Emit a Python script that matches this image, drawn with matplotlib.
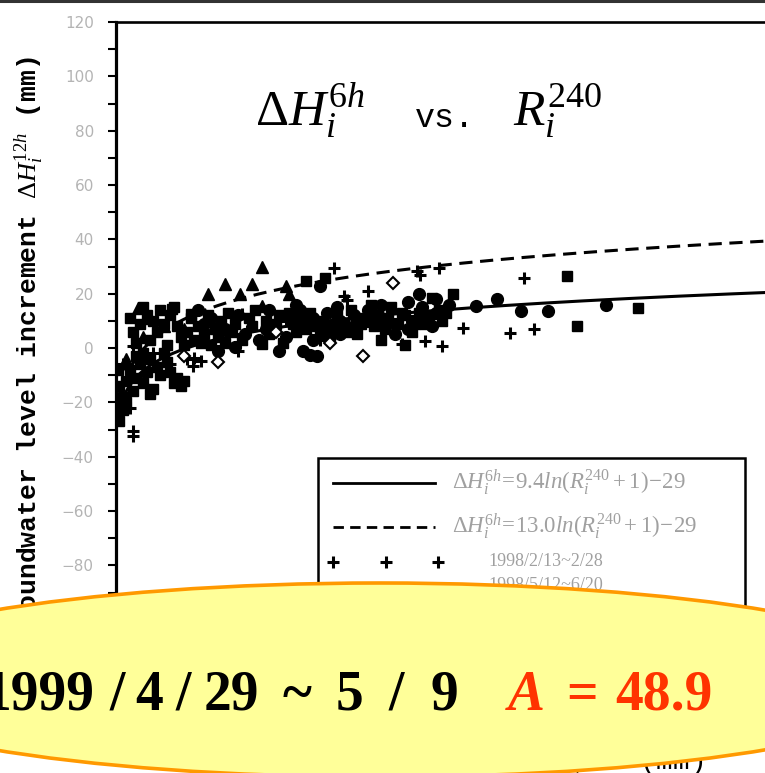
import matplotlib
matplotlib.use("Agg")
import matplotlib.pyplot as plt
from matplotlib.patches import Ellipse, Rectangle
from matplotlib.lines import Line2D
import numpy as np

plt.rcParams['mathtext.fontset'] = 'custom'
plt.rcParams['mathtext.rm'] = 'Liberation Serif'
plt.rcParams['mathtext.it'] = 'Liberation Serif:italic'
plt.rcParams['mathtext.tt'] = 'Liberation Mono'
plt.rcParams['lines.scale_dashes'] = False

# ---------------- data ----------------
cross_R = [4, 5, 5, 5, 2, 7, 11, 16, 21, 23, 25, 22.6, 37, 36, 38.5, 30, 64, 67, 68, 74,
           84, 88.5, 89.5, 91, 95, 96, 102, 116, 120, 123, 76, 60, 50]
cross_H = [-22, -30.5, -32.5, 0.7, -6, -12, -2, -6, -4, -3.7, -4.8, -6.6, 12.5, -1, 6.3, 9, 29.5, 19, 17.5, 21,
           1.5, 28.3, 27, 2.6, 29.5, 0.7, 7.4, 5.5, 25.8, 7, 12, 3, 10]

tri_R = [6.5, 10, 14, 20, 27, 32, 36.5, 40, 43, 43, 50, 51, 3, 55, 8]
tri_H = [14.7, 11, 8, 7, 20, 23.5, 20, 23.5, 30, 15.5, 23, 20, -4, 12, 4]

sq_R = [0.5, 1, 1, 2, 2, 3, 3, 4, 5, 6, 6, 7, 8, 8, 9, 10, 10, 11, 12, 13, 14, 15, 16, 17, 18, 19, 20,
        6, 10, 12, 14, 16, 17, 18, 19, 20, 21, 22, 23, 24, 25, 26, 28, 30, 32, 34, 7, 9, 11, 13, 5, 4, 15,
        16.5, 22, 8,
        43, 40, 44, 48, 52, 56, 60, 64, 68, 72, 56, 61.5, 76, 80, 84, 88, 92, 96, 93, 99, 132.6, 135.6,
        153.5, 85, 78,
        27, 29, 31, 33, 35, 37, 39, 41, 45, 47, 49, 51, 53, 55, 57, 59, 61, 63, 65, 67, 69, 71, 73, 75,
        77, 79, 81, 83, 85, 87, 89, 91, 95, 97]
sq_H = [-8, -14, -27, -18, -23, -12, -20, -8, -16, -11, -3, -6, -13, -2, -9, -4, -17, -15, -7, -10, -2, -5, -9, -13, -11, -14, -12,
        2, 3, 6, 9, 12, 15, 8, 4, 1, 6, 11, 3, 8, 2, 5, 1, 4, 2, 6, 9, 12, 10, 14, 6, 11, 1,
        14.4, 12.5, 15,
        1.5, 8, 10, 12, 9, 7, 5, 8, 6, 9, 24.6, 25.8, 8, 11, 13, 9, 12, 10, 18.4, 20, 26.5, 8,
        14.7, 1, 3,
        12, 7, 10, 13, 9, 3, 11, 14, 5, 9, 2, 13, 6, 10, 13, 8, 10, 4, 12, 9, 14, 5, 11, 16,
        12, 7, 15, 9, 12, 6, 13, 9, 14, 13]

circ_R = [57, 55, 59, 48, 35, 42, 46, 50, 54, 58, 62, 66, 70, 45, 53, 65, 74, 78, 82, 86, 90, 94, 89,
          87, 93, 106, 112, 119, 127, 144, 38, 30, 26, 24, 60,
          28, 32, 36, 44, 52, 58, 62, 66, 70, 74, 78, 82, 86, 90, 94, 98]
circ_H = [-2.4, -1, -3, -1, 0.5, 3, 6, 4, 14, 11, 13, 10, 12, 14, 16, 15, 14, 16, 5, 17, 15, 18, 20,
          10, 8, 15.5, 18, 13.6, 13.6, 16, 5, -1, 9, 14, 23,
          11, 7, 12, 7, 11, 3, 8, 5, 8, 10, 11, 9, 7, 11, 13, 16]

dia_R = [72.6, 81.5, 63, 47, 30, 20]
dia_H = [-3, 24, 2, 6, -5, -3]

a_solid, b_solid = 9.4, -29.0
a_dash, b_dash = 13.0, -29.0

yticks = [-120, -100, -80, -60, -40, -20, 0, 20, 40, 60, 80, 100, 120]

# ---------------- figure ----------------
W, H = 765, 773
fig = plt.figure(figsize=(W / 100, H / 100), dpi=100)


def fx(x):
    return x / W


def fy(y):
    return 1 - y / H


xmax = 250
px_per_mm = 3.4
ax = fig.add_axes([fx(116), fy(674), xmax * px_per_mm / W, (674 - 22) / H])
ax.set_xlim(0, xmax)
ax.set_ylim(-120, 120)

r = np.linspace(0, xmax, 600)
ax.plot(r, a_solid * np.log(r + 1) + b_solid, color='black', lw=2.2)
ax.plot(r, a_dash * np.log(r + 1) + b_dash, color='black', lw=2.2, dashes=(9.5, 5.5))

ax.plot(sq_R, sq_H, 's', color='black', ms=7.5, ls='none')
ax.plot(circ_R, circ_H, 'o', color='black', ms=8.5, ls='none')
ax.plot(tri_R, tri_H, '^', color='black', ms=8.5, ls='none')
ax.plot(cross_R, cross_H, '+', color='black', ms=9, mew=2.2, ls='none')
ax.plot(dia_R, dia_H, 'D', mfc='white', mec='black', ms=6, mew=1.5, ls='none')

for s in ['right', 'bottom']:
    ax.spines[s].set_visible(False)
ax.spines['left'].set_linewidth(2.3)
ax.spines['top'].set_linewidth(1.9)
ax.set_yticks(yticks)
ax.set_yticks(np.arange(-110, 120, 20), minor=True)
ax.set_xticks([])
ax.tick_params(axis='y', which='both', direction='out', length=6, width=1.5,
               color='black', labelsize=11, labelcolor='#b4b4b4', pad=10)

# title inside plot
fig.text(fx(255), fy(127), r"$\Delta H_i^{6h}$", fontsize=37, ha='left', va='baseline')
fig.text(fx(415), fy(127), "vs.", family='Liberation Mono', fontsize=24, ha='left', va='baseline')
fig.text(fx(513), fy(127), r"$R_i^{240}$", fontsize=37, ha='left', va='baseline')

# y label
fig.text(fx(29), fy(349), r"Groundwater level increment $\Delta H_i^{12h}$ (mm)",
         family='Liberation Mono', fontweight='bold', fontsize=19, rotation=90,
         ha='center', va='center')

# x label (mostly hidden)
fig.text(fx(703), fy(762), r"Rainfall  $R_i^{240}$  (mm)", family='Liberation Mono',
         fontsize=20, ha='right', va='center')

# legend (manual)
fig.add_artist(Rectangle((fx(318), fy(650)), (745 - 318) / W, (650 - 458) / H,
                         transform=fig.transFigure, fc='white', ec='black', lw=1.8, zorder=2))
fig.add_artist(Line2D([fx(333), fx(435)], [fy(483), fy(483)], color='black', lw=2,
                      transform=fig.transFigure, zorder=3))
fig.add_artist(Line2D([fx(333), fx(435)], [fy(527), fy(527)], color='black', lw=2, dashes=(7.5, 4.5),
                      transform=fig.transFigure, zorder=3))
fig.add_artist(Line2D([fx(333), fx(386), fx(438)], [fy(562)] * 3, color='black', marker='+', ms=9,
                      mew=2.2, ls='none', transform=fig.transFigure, zorder=3))
fig.add_artist(Line2D([fx(333), fx(386), fx(438)], [fy(600)] * 3, color='black', marker='^', ms=8,
                      ls='none', transform=fig.transFigure, zorder=3))
leg_col = '#a0a0a0'
fig.text(fx(452), fy(483), r"$\mathit{\Delta H_i^{6h}\!=\!9.4ln(R_i^{240}+1)\!-\!29}$", fontsize=16.5,
         color=leg_col, ha='left', va='center', zorder=3)
fig.text(fx(452), fy(527), r"$\mathit{\Delta H_i^{6h}\!=\!13.0ln(R_i^{240}+1)\!-\!29}$", fontsize=16.5,
         color=leg_col, ha='left', va='center', zorder=3)
fig.text(fx(488), fy(562), "1998/2/13~2/28", family='Liberation Serif', fontsize=13,
         color=leg_col, ha='left', va='center', zorder=3)
fig.text(fx(488), fy(586), "1998/5/12~6/20", family='Liberation Serif', fontsize=13,
         color=leg_col, ha='left', va='center', zorder=3)

# top border
fig.add_artist(Line2D([0, 1], [fy(1), fy(1)], color='#333333', lw=2.2, transform=fig.transFigure))

# callout ellipse
fig.add_artist(Ellipse((3.80, 0.93), 11.1, 1.94, transform=fig.dpi_scale_trans,
                       fc='#FFFF99', ec='#FF9900', lw=2.6, zorder=5))
tkw = dict(family='Liberation Serif', fontweight='bold', fontsize=40, va='baseline', zorder=6)
fig.text(fx(95), fy(710), "1999", ha='right', color='black', **tkw)
fig.text(fx(117), fy(710), "/", ha='center', color='black', **tkw)
fig.text(fx(149), fy(710), "4", ha='center', color='black', **tkw)
fig.text(fx(183), fy(710), "/", ha='center', color='black', **tkw)
fig.text(fx(231), fy(710), "29", ha='center', color='black', **tkw)
fig.text(fx(297), fy(710), "~", ha='center', color='black', **tkw)
fig.text(fx(350), fy(710), "5", ha='center', color='black', **tkw)
fig.text(fx(396), fy(710), "/", ha='center', color='black', **tkw)
fig.text(fx(444), fy(710), "9", ha='center', color='black', **tkw)
fig.text(fx(526), fy(710), "A", ha='center', color='#FF3300', style='italic', **tkw)
fig.text(fx(582), fy(710), "=", ha='center', color='#FF3300', **tkw)
fig.text(fx(615), fy(710), "48.9", ha='left', color='#FF3300', **tkw)

fig.savefig('out.png', dpi=100)
